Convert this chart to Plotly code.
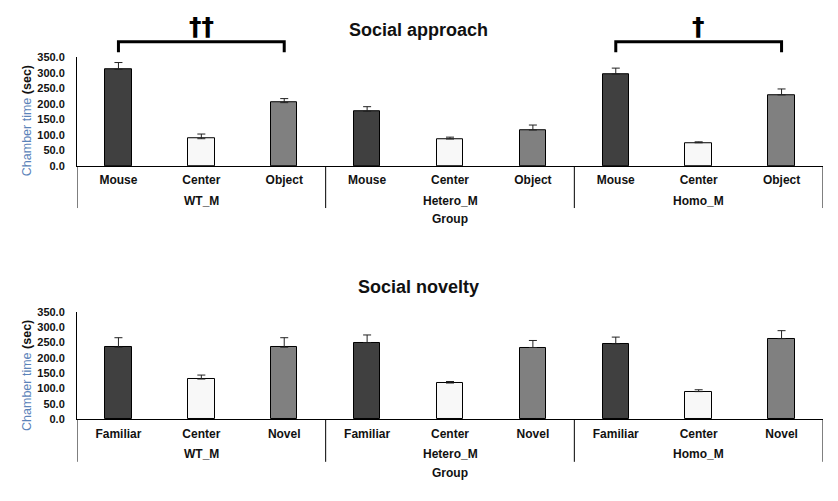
import plotly.graph_objects as go

W, H = 838, 501

groups = ["WT_M", "Hetero_M", "Homo_M"]
approach_cats = ["Mouse", "Center", "Object"]
novelty_cats = ["Familiar", "Center", "Novel"]

approach_mean = [311, 88, 204, 176, 87, 116, 296, 75, 229]
approach_err = [22, 15, 13, 15, 6, 16, 19, 3, 19]
novelty_mean = [235, 131, 235, 250, 118, 234, 246, 90, 263]
novelty_err = [31, 13, 31, 25, 5, 23, 22, 6, 26]

y_ticks = [0, 50, 100, 150, 200, 250, 300, 350]
y_tick_labels = ["0.0", "50.0", "100.0", "150.0", "200.0", "250.0", "300.0", "350.0"]

# significance brackets: (group index, label)
approach_sig = [(0, "††"), (2, "†")]
novelty_sig = []

bar_fill = ["#404040", "#f8f8f8", "#808080"]
FONT = "Liberation Sans, Arial, sans-serif"


def px(x):
    return x / W


def py(y):
    return 1 - y / H


fig = go.Figure()

panels = [
    dict(cats=approach_cats, mean=approach_mean, err=approach_err, sig=approach_sig,
         title="Social approach", xa="x", ya="y", top=52.5, zero=164.0, title_y=25,
         div_bottom=207, grp_y=200, group_y=218, ytitle_y=118),
    dict(cats=novelty_cats, mean=novelty_mean, err=novelty_err, sig=novelty_sig,
         title="Social novelty", xa="x2", ya="y2", top=313.5, zero=423.3, title_y=288,
         div_bottom=467, grp_y=459, group_y=478, ytitle_y=379),
]

annotations = []
shapes = []
n_cat = len(approach_cats)
n_all = n_cat * len(groups)
xs = list(range(n_all))

for k, p in enumerate(panels):
    cats_full = [c for g in groups for c in p["cats"]]
    colors = [bar_fill[i % n_cat] for i in range(n_all)]
    fig.add_trace(go.Bar(
        x=xs, y=p["mean"], width=0.32,
        marker=dict(color=colors, line=dict(color="#000000", width=1)),
        error_y=dict(type="data", array=p["err"], arrayminus=[0] * n_all, symmetric=False,
                     color="#222222", thickness=1, width=4),
        xaxis=p["xa"], yaxis=p["ya"], showlegend=False, hoverinfo="skip",
    ))
    sfx = "" if k == 0 else "2"
    fig.layout["xaxis" + sfx] = dict(
        domain=[px(77), px(823)], range=[-0.5, n_all - 0.5], anchor="y" + sfx,
        tickmode="array", tickvals=xs, ticktext=cats_full, ticks="",
        showline=True, linecolor="#000000", linewidth=1, showgrid=False, zeroline=False,
        tickfont=dict(family=FONT, size=12, color="#111111", weight="bold"),
        ticklabelstandoff=3, fixedrange=True,
    )
    fig.layout["yaxis" + sfx] = dict(
        domain=[py(p["zero"]), py(p["top"])], range=[0, 350], anchor="x" + sfx,
        tickmode="array", tickvals=y_ticks, ticktext=y_tick_labels, ticks="",
        showline=True, linecolor="#000000", linewidth=1, showgrid=False, zeroline=False,
        tickfont=dict(family=FONT, size=11, color="#111111", weight="bold"),
        ticklabelstandoff=9, fixedrange=True,
    )
    # group dividers
    for d in range(len(groups) + 1):
        xd = d * n_cat - 0.5
        shapes.append(dict(type="line", xref=p["xa"], yref="paper", x0=xd, x1=xd,
                           y0=py(p["zero"]), y1=py(p["div_bottom"]),
                           line=dict(color="#000000", width=1)))
    # group labels
    for gi, g in enumerate(groups):
        annotations.append(dict(text=g, xref=p["xa"], yref="paper", x=gi * n_cat + (n_cat - 1) / 2,
                                y=py(p["grp_y"]), showarrow=False, xanchor="center", yanchor="middle",
                                font=dict(family=FONT, size=12, color="#111111", weight="bold")))
    annotations.append(dict(text="Group", xref=p["xa"], yref="paper", x=(n_all - 1) / 2,
                            y=py(p["group_y"]), showarrow=False, xanchor="center", yanchor="middle",
                            font=dict(family=FONT, size=12, color="#111111", weight="bold")))
    # title
    annotations.append(dict(text=p["title"], xref="paper", yref="paper", x=px(418), y=py(p["title_y"]),
                            showarrow=False, xanchor="center", yanchor="middle",
                            font=dict(family=FONT, size=18, color="#111111", weight="bold")))
    # y title
    annotations.append(dict(text="<span style='color:#5b83b9'>Chamber time</span> <b>(sec)</b>",
                            xref="paper", yref="paper", x=px(27), y=py(p["ytitle_y"]),
                            textangle=-90, showarrow=False, xanchor="center", yanchor="middle",
                            font=dict(family=FONT, size=12.5, color="#111111")))
    # significance brackets
    for gi, lab in p["sig"]:
        x0 = gi * n_cat
        x1 = gi * n_cat + n_cat - 1
        yb = p["top"] - 16
        yt = p["top"] - 5
        shapes.append(dict(type="path", xref=p["xa"], yref="paper",
                           path=f"M {x0},{py(yt)} L {x0},{py(yb)} L {x1},{py(yb)} L {x1},{py(yt)}",
                           line=dict(color="#000000", width=3)))
        annotations.append(dict(text=lab, xref=p["xa"], yref="paper", x=(x0 + x1) / 2,
                                y=py(yb + 1), showarrow=False, xanchor="center", yanchor="bottom",
                                font=dict(family="DejaVu Sans, sans-serif", size=25,
                                          color="#000000", weight="bold")))

fig.update_layout(
    width=W, height=H, margin=dict(l=0, r=0, t=0, b=0),
    paper_bgcolor="#ffffff", plot_bgcolor="#ffffff",
    shapes=shapes, annotations=annotations, bargap=0,
)

fig.write_html("out.html", config={"displayModeBar": False},
               post_script="document.body.style.margin='0';document.body.style.overflow='hidden';")
